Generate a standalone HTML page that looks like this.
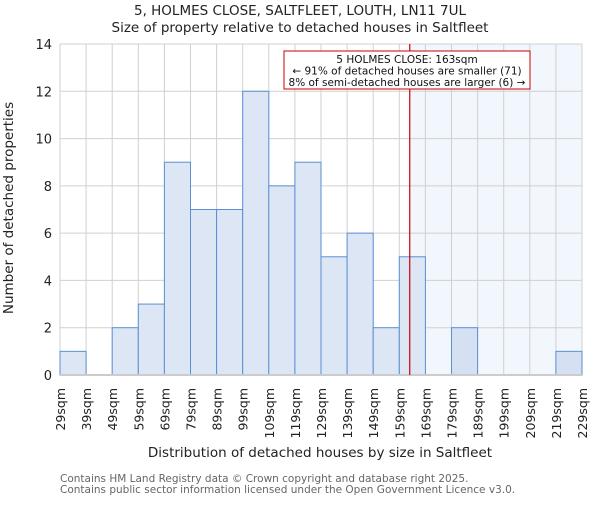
<!DOCTYPE html>
<html><head><meta charset="utf-8"><style>
body{margin:0;background:#fff}
svg text{font-family:"DejaVu Sans","Liberation Sans",sans-serif}
</style></head><body>
<svg id="chart" width="600" height="500" xmlns="http://www.w3.org/2000/svg">
<text x="300" y="15" text-anchor="middle" font-size="13.5" fill="#222">5, HOLMES CLOSE, SALTFLEET, LOUTH, LN11 7UL</text>
<text x="300" y="32" text-anchor="middle" font-size="13.5" fill="#222">Size of property relative to detached houses in Saltfleet</text>
<g id="plot"></g>
<text transform="translate(13,208) rotate(-90)" text-anchor="middle" font-size="13.5" fill="#222">Number of detached properties</text>
<text x="320" y="457" text-anchor="middle" font-size="13.5" fill="#222">Distribution of detached houses by size in Saltfleet</text>
<text x="60" y="482" font-size="10.5" fill="#666">Contains HM Land Registry data © Crown copyright and database right 2025.</text>
<text x="60" y="493" font-size="10.5" fill="#666">Contains public sector information licensed under the Open Government Licence v3.0.</text>
</svg>
<script>
const binStarts=[29,39,49,59,69,79,89,99,109,119,129,139,149,159,169,179,189,199,209,219];
const counts=[1,0,2,3,9,7,7,12,8,9,5,6,2,5,0,2,0,0,0,1];
const yTicks=[0,2,4,6,8,10,12,14];
const tickLabels=["29sqm","39sqm","49sqm","59sqm","69sqm","79sqm","89sqm","99sqm","109sqm","119sqm","129sqm","139sqm","149sqm","159sqm","169sqm","179sqm","189sqm","199sqm","209sqm","219sqm","229sqm"];
const subject=163;
const NS="http://www.w3.org/2000/svg";
const X0=60,X1=582,Y0=375,Y1=44,xmin=29,xmax=229,ymax=14;
const sx=v=>X0+(v-xmin)/(xmax-xmin)*(X1-X0);
const sy=v=>Y0-v/ymax*(Y0-Y1);
const g=document.getElementById('plot');
function mk(t,a){const e=document.createElementNS(NS,t);for(const k in a)e.setAttribute(k,a[k]);g.appendChild(e);return e;}
const sxv=sx(subject);
let e=mk('rect',{x:sxv,y:Y1,width:X1-sxv,height:Y0-Y1,fill:'#f2f6fd'});


yTicks.forEach(t=>{
 let l=mk('line',{x1:X0,x2:X1,y1:sy(t),y2:sy(t),stroke:'#d0d0d0','stroke-width':1});
 
 
 let tx=mk('text',{x:X0-8,y:sy(t)+5,'text-anchor':'end','font-size':13,fill:'#222'});tx.textContent=t;
 
 
});
tickLabels.forEach((lab,i)=>{
 const v=xmin+i*10;
 let l=mk('line',{x1:sx(v),x2:sx(v),y1:Y1,y2:Y0,stroke:'#d0d0d0','stroke-width':1});
 
 
 let tx=mk('text',{transform:`translate(${sx(v)+5},${388}) rotate(-90)`,'text-anchor':'end','font-size':12.5,fill:'#222'});tx.textContent=lab;
 
 
});
binStarts.forEach((b,i)=>{
 if(counts[i]<=0)return;
 const r=mk('rect',{x:sx(b),y:sy(counts[i]),width:sx(b+10)-sx(b),height:Y0-sy(counts[i]),fill:b>=subject?'#d5e1f3':'#dde6f4',stroke:'#5b8fd4','stroke-width':1});
 
 
});
e=mk('line',{x1:X0,x2:X1,y1:Y0,y2:Y0,stroke:'#cccccc','stroke-width':2});


e=mk('line',{x1:sxv,x2:sxv,y1:Y1,y2:Y0,stroke:'#cc0000','stroke-width':1.2});


e=mk('rect',{x:284,y:51,width:246,height:38,fill:'#fff',stroke:'#cc0000','stroke-width':1});


["5 HOLMES CLOSE: 163sqm","← 91% of detached houses are smaller (71)","8% of semi-detached houses are larger (6) →"].forEach((s,i)=>{
 let tx=mk('text',{x:407,y:63+i*11.5,'text-anchor':'middle','font-size':10.5,fill:'#111'});tx.textContent=s;
 
 
});
</script>
</body></html>
